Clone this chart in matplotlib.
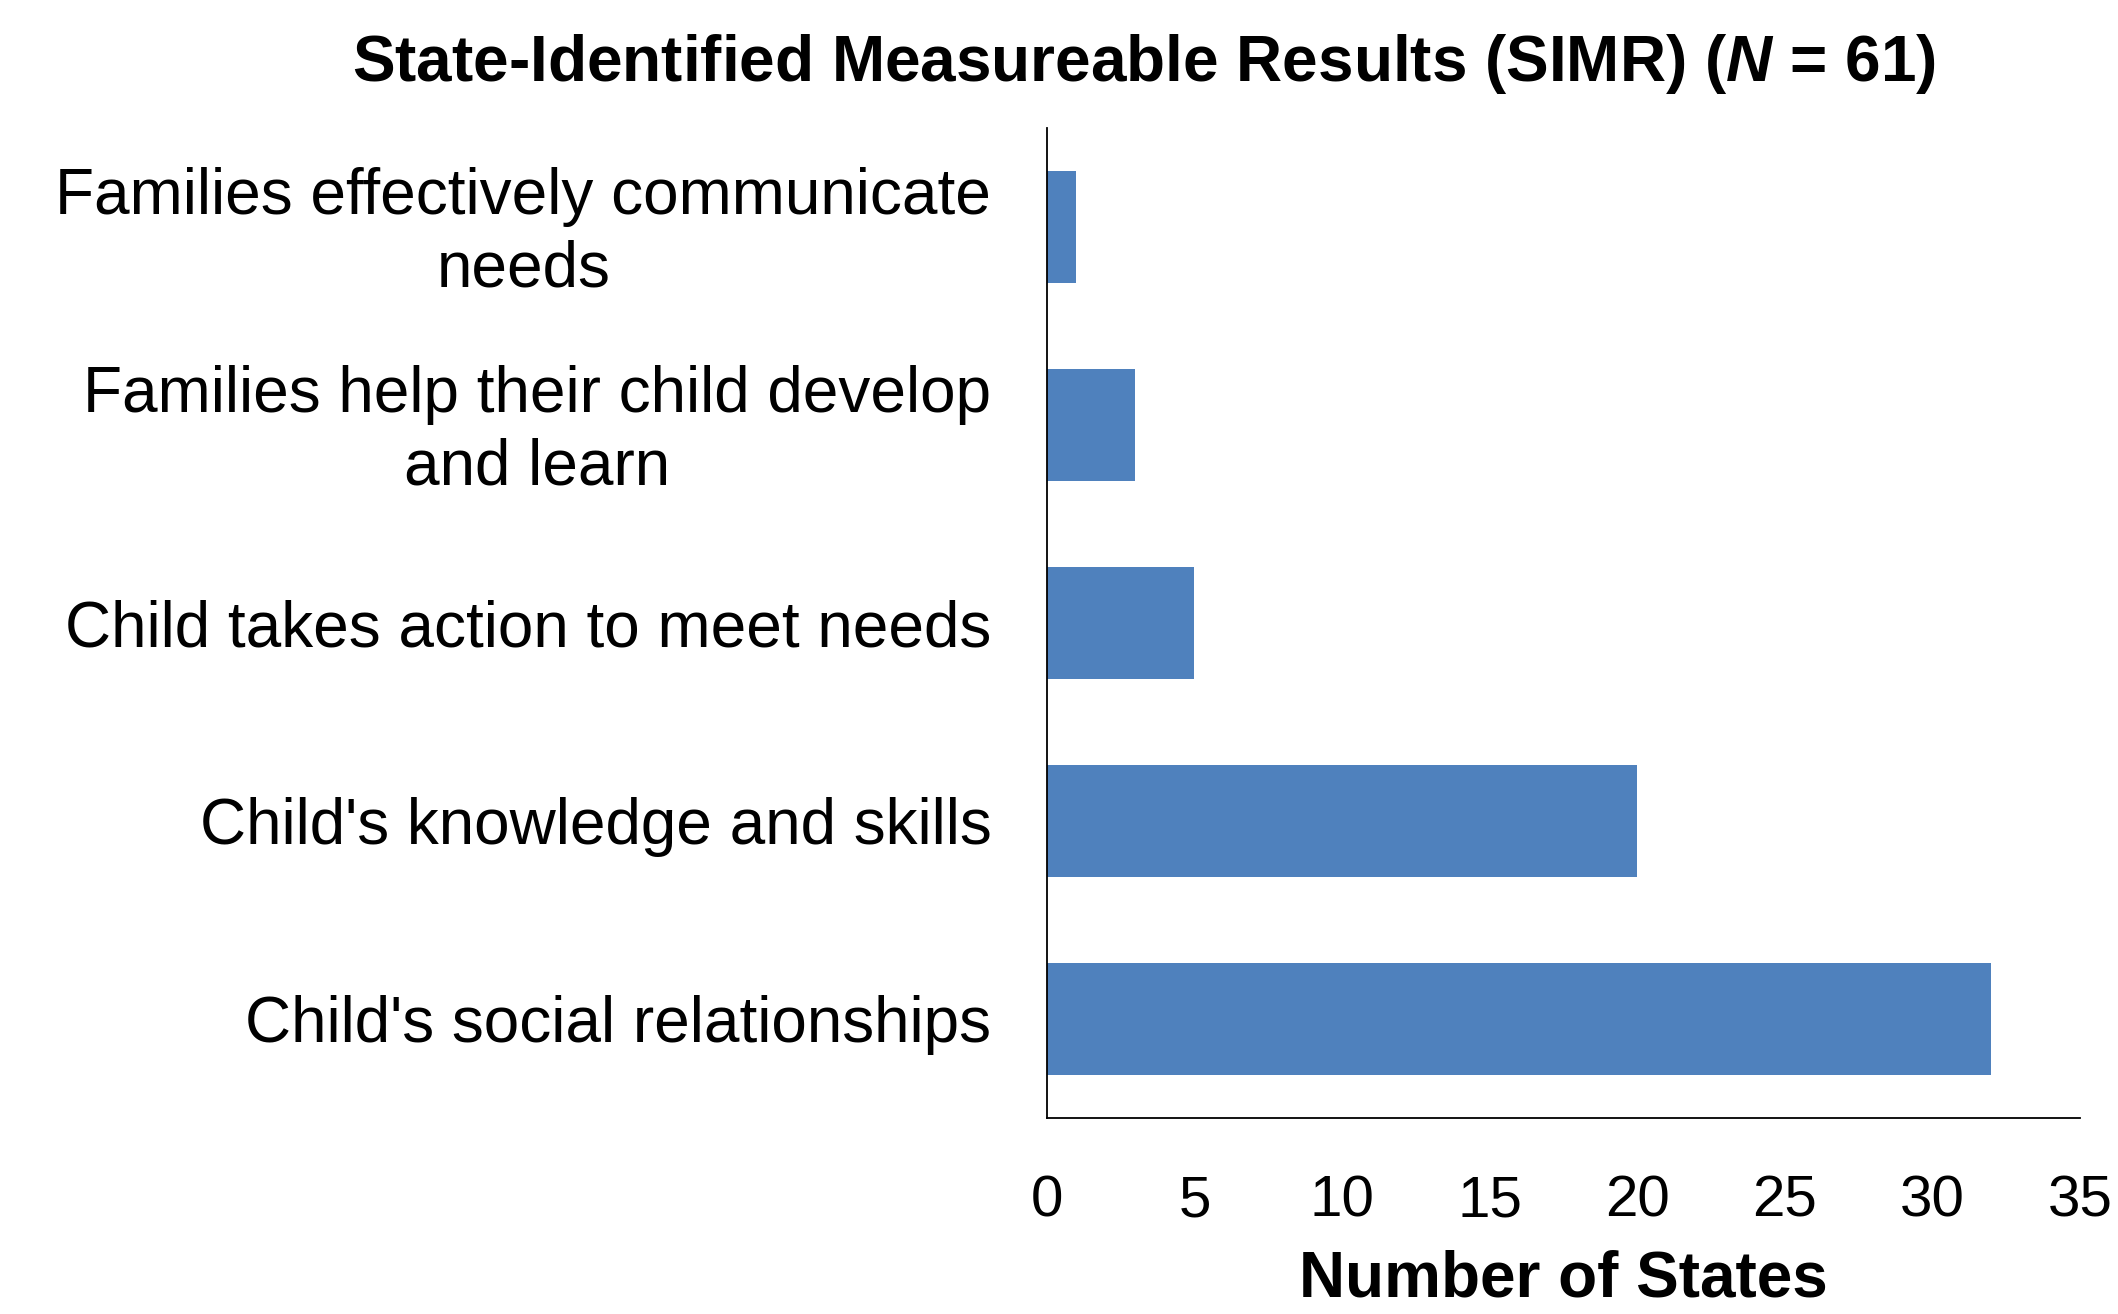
import matplotlib.pyplot as plt
from matplotlib.transforms import ScaledTranslation

categories = [
    "Child's social relationships",
    "Child's knowledge and skills",
    "Child takes action to meet needs",
    "Families help their child develop\nand learn",
    "Families effectively communicate\nneeds",
]
counts = [32, 20, 5, 3, 1]
xticks = [0, 5, 10, 15, 20, 25, 30, 35]

plt.rcParams['font.family'] = ['Liberation Sans', 'DejaVu Sans']
plt.rcParams['mathtext.fontset'] = 'custom'
plt.rcParams['mathtext.it'] = 'Liberation Sans:bold:italic'
plt.rcParams['mathtext.rm'] = 'Liberation Sans:bold'

fig = plt.figure(figsize=(21.18, 13.14), dpi=100)
ax = fig.add_axes([0.4943, 0.1492, 0.982 - 0.4943, 0.9026 - 0.1492])

ax.barh(range(len(categories)), counts, height=0.57, color='#4F81BD')
ax.set_xlim(0, 35)
ax.set_ylim(-0.5, len(categories) - 0.5)
ax.set_xticks(xticks)
ax.set_yticks(range(len(categories)))
ax.set_yticklabels(categories, multialignment='center', linespacing=1.28)

ax.tick_params(axis='x', length=0, pad=41, labelsize=42)
ax.tick_params(axis='y', length=0, pad=40, labelsize=46)
for s in ['top', 'right']:
    ax.spines[s].set_visible(False)
for s in ['left', 'bottom']:
    ax.spines[s].set_linewidth(1.3)
    ax.spines[s].set_color('black')

# two-line labels sit a bit higher in the original
for lbl in ax.get_yticklabels():
    if '\n' in lbl.get_text():
        lbl.set_transform(lbl.get_transform() +
                          ScaledTranslation(0, 5 / 72, fig.dpi_scale_trans))

ax.set_xlabel('Number of States', fontsize=46, fontweight='bold')
ax.xaxis.set_label_coords(0.5, -0.133)
fig.text(0.54, 0.951, 'State-Identified Measureable Results (SIMR) ($N$ = 61)',
         ha='center', va='center', fontsize=46, fontweight='bold')

fig.savefig('out.png', dpi=100)
